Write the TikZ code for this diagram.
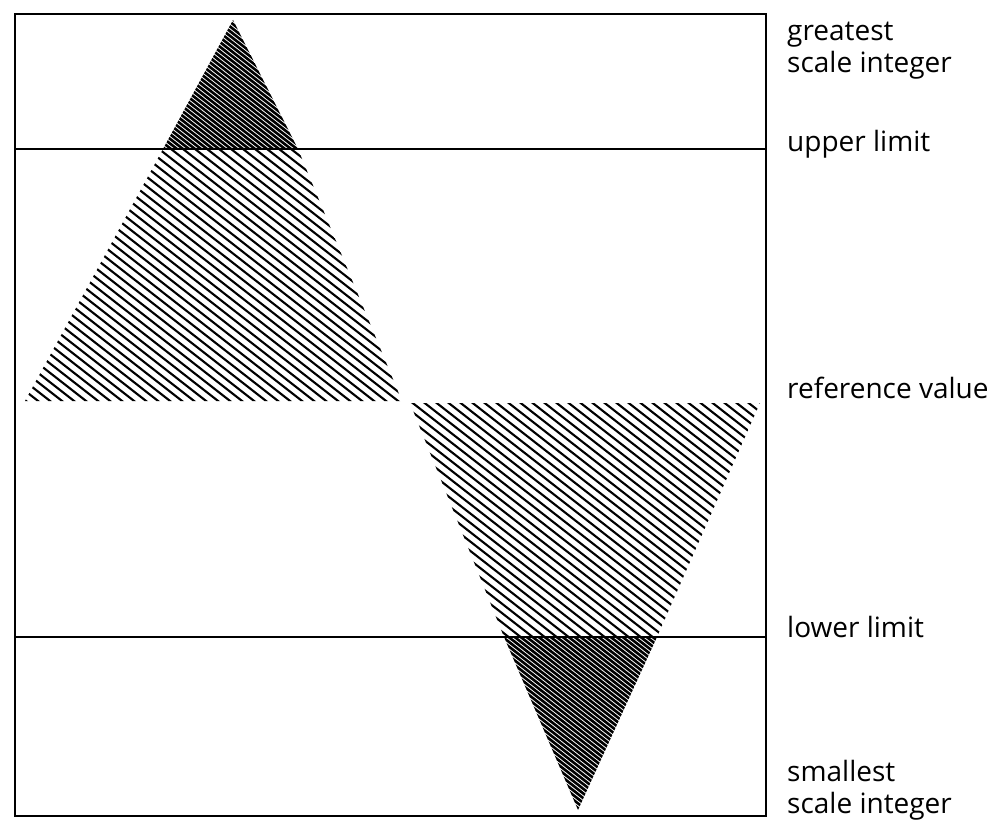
\documentclass[tikz,border=0pt]{standalone}
\usepackage{fontspec}
\setmainfont{Open Sans}
\begin{document}
\begin{tikzpicture}[x=1pt,y=-1pt,
  lab/.style={anchor=base west, inner sep=0pt, font=\fontsize{28}{32}\selectfont, align=left},
  frame/.style={line width=2pt},
  limitline/.style={line width=2pt}]
\useasboundingbox (0,0) rectangle (997,821);
% light hatched regions
\begin{scope}
  \clip (163,149) -- (298,149) -- (402,401) -- (25,401) -- cycle;
  \foreach \i in {-1100,-1088,...,800} \draw[line width=2.1pt] (\i,0) -- ++(1100,858);
\end{scope}
\begin{scope}
  \clip (410,403) -- (760,403) -- (657,637) -- (504,637) -- cycle;
  \foreach \i in {-1100,-1088,...,800} \draw[line width=2.1pt] (\i,0) -- ++(1100,858);
\end{scope}
% dark hatched regions
\begin{scope}
  \clip (233,20) -- (298,149) -- (163,149) -- cycle;
  \foreach \i in {-1100,-1094,...,800} \draw[line width=2.6pt] (\i,0) -- ++(1100,858);
\end{scope}
\begin{scope}
  \clip (504,637) -- (657,637) -- (578,810) -- cycle;
  \foreach \i in {-1100,-1094,...,800} \draw[line width=2.6pt] (\i,0) -- ++(1100,858);
\end{scope}
% frame and limit lines
\coordinate (ul) at (15,149);
\coordinate (ur) at (766,149);
\coordinate (ll) at (15,637);
\coordinate (lr) at (766,637);
\draw[frame] (15,14) rectangle (766,816);
\draw[limitline] (ul) -- (ur);
\draw[limitline] (ll) -- (lr);
% labels
\node[lab] (greatest) at (787,73) {greatest\\scale integer};
\node[lab] (upper) at (787,152) {upper limit};
\node[lab] (ref) at (787,398) {reference value};
\node[lab] (lower) at (787,637) {lower limit};
\node[lab] (smallest) at (787,813) {smallest\\scale integer};
\end{tikzpicture}
\end{document}
